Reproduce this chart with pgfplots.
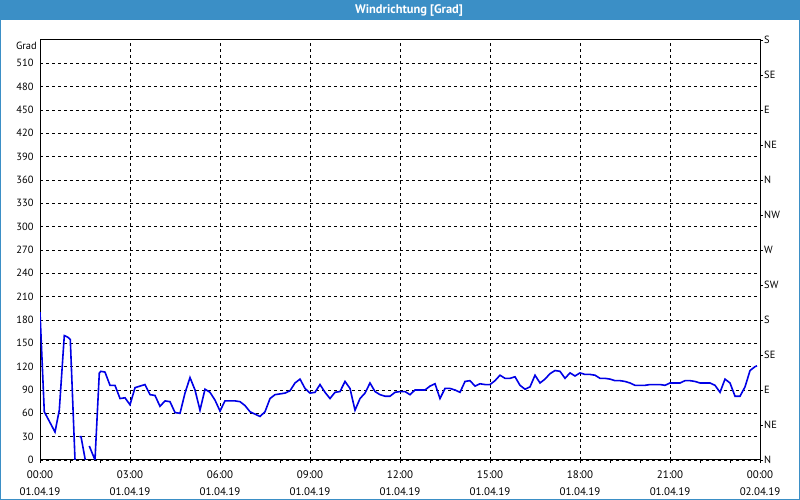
\documentclass[border=0pt]{standalone}
\usepackage{pgfplots}
\pgfplotsset{compat=1.18}
\usepackage{fontspec}
\setmainfont{PT Sans}
\definecolor{titlebar}{HTML}{3B8FC6}
\definecolor{lineblue}{RGB}{0,0,230}
\begin{document}
\begin{tikzpicture}[x=1bp,y=1bp]
\useasboundingbox (0,0) rectangle (800,500);
\fill[white] (0,0) rectangle (800,500);
\fill[titlebar] (0,480) rectangle (800,500);
\draw[titlebar, line width=1.2bp] (0.6,480) -- (0.6,0.6) -- (799.4,0.6) -- (799.4,480);
\node[white, font=\bfseries\fontsize{12.5}{14}\selectfont] at (409,490) {Windrichtung [Grad]};
\node[anchor=east, font=\fontsize{10.5}{12}\selectfont, inner sep=0pt] at (37,454) {Grad};
\begin{axis}[
  at={(40bp,40bp)}, anchor=south west, scale only axis,
  width=720bp, height=420bp,
  xmin=0, xmax=24, ymin=0, ymax=540,
  xtick={0,3,...,24},
  minor xtick={1,2,4,5,7,8,10,11,13,14,16,17,19,20,22,23},
  xticklabels={{00:00\\01.04.19},{03:00\\01.04.19},{06:00\\01.04.19},{09:00\\01.04.19},{12:00\\01.04.19},{15:00\\01.04.19},{18:00\\01.04.19},{21:00\\01.04.19},{00:00\\02.04.19}},
  xticklabel style={align=center, font=\fontsize{11}{17}\selectfont, yshift=-4bp},
  ytick={0,30,...,510},
  yticklabel style={font=\fontsize{10.5}{12}\selectfont},
  /pgf/number format/assume math mode=true,
  xtick pos=lower, ytick pos=left,
  tick align=outside,
  major tick length=3bp, minor tick length=3bp,
  ytick style={draw=none},
  tick style={black, line width=0.8bp},
  grid=major,
  major grid style={black, line width=0.8bp, dash pattern=on 3bp off 3bp},
  axis line style={black, line width=1bp},
]
\addplot[lineblue, line width=1.6bp] coordinates {
(0,190) (0.057,139) (0.143,62) (0.5,36) (0.643,64) (0.81,160) (0.923,158) (1.01,155) (1.167,0)
};
\addplot[lineblue, line width=1.6bp] coordinates {
(1.31,30) (1.367,30) (1.51,0)
};
\addplot[lineblue, line width=1.6bp] coordinates {
(1.643,18) (1.833,0) (1.977,112) (2.033,114) (2.167,113) (2.333,96) (2.5,96)
(2.667,79) (2.833,80) (3.0,71) (3.167,93) (3.333,95) (3.5,97) (3.667,84) (3.833,83)
(4.0,69) (4.167,76) (4.333,75) (4.5,61) (4.667,60) (4.833,86) (5.0,106) (5.167,90)
(5.333,64) (5.5,91) (5.667,87) (5.833,77) (6.0,63) (6.167,76) (6.333,76) (6.5,76)
(6.667,75) (6.833,70) (7.0,62) (7.167,59) (7.333,56) (7.5,62) (7.667,79) (7.833,84)
(8.0,85) (8.167,86) (8.333,89) (8.5,99) (8.667,104) (8.833,92) (9.0,86) (9.167,87)
(9.333,97) (9.5,87) (9.667,79) (9.833,87) (10.0,88) (10.167,101) (10.333,92) (10.5,64)
(10.667,79) (10.833,86) (11.0,99) (11.167,88) (11.333,84) (11.5,82) (11.667,82) (11.833,87)
(12.0,88) (12.167,88) (12.333,84) (12.5,90) (12.667,90) (12.833,90) (13.0,95) (13.167,98)
(13.333,79) (13.5,92) (13.667,92) (13.833,90) (14.0,87) (14.167,101) (14.333,102) (14.5,95)
(14.667,98) (14.833,97) (15.0,97) (15.167,102) (15.333,109) (15.5,105) (15.667,105) (15.833,107)
(16.0,96) (16.167,91) (16.333,94) (16.5,109) (16.667,99) (16.833,104) (17.0,111) (17.167,115)
(17.333,114) (17.5,105) (17.667,112) (17.833,108) (18.0,112) (18.167,110) (18.333,110) (18.5,109)
(18.667,105) (18.833,105) (19.0,104) (19.167,102) (19.333,102) (19.5,101) (19.667,99) (19.833,96)
(20.0,96) (20.167,96) (20.333,97) (20.5,97) (20.667,97) (20.833,96) (21.0,99) (21.167,99)
(21.333,99) (21.5,102) (21.667,102) (21.833,101) (22.0,99) (22.167,99) (22.333,99) (22.5,96)
(22.667,87) (22.833,104) (23.0,99) (23.167,82) (23.333,82) (23.5,94) (23.667,115) (23.833,120)
(23.9,121)
};
\end{axis}
\begin{axis}[
  at={(40bp,40bp)}, anchor=south west, scale only axis,
  width=720bp, height=420bp,
  xmin=0, xmax=24, ymin=0, ymax=540,
  axis x line=none, axis y line*=right,
  ytick={0,45,...,540},
  yticklabels={N,NE,E,SE,S,SW,W,NW,N,NE,E,SE,S},
  yticklabel style={font=\fontsize{10.5}{12}\selectfont, anchor=west, inner sep=1bp},
  tick align=outside, major tick length=3bp,
  tick style={black, line width=0.8bp},
  axis line style={black, line width=1bp},
]
\end{axis}
\end{tikzpicture}
\end{document}
